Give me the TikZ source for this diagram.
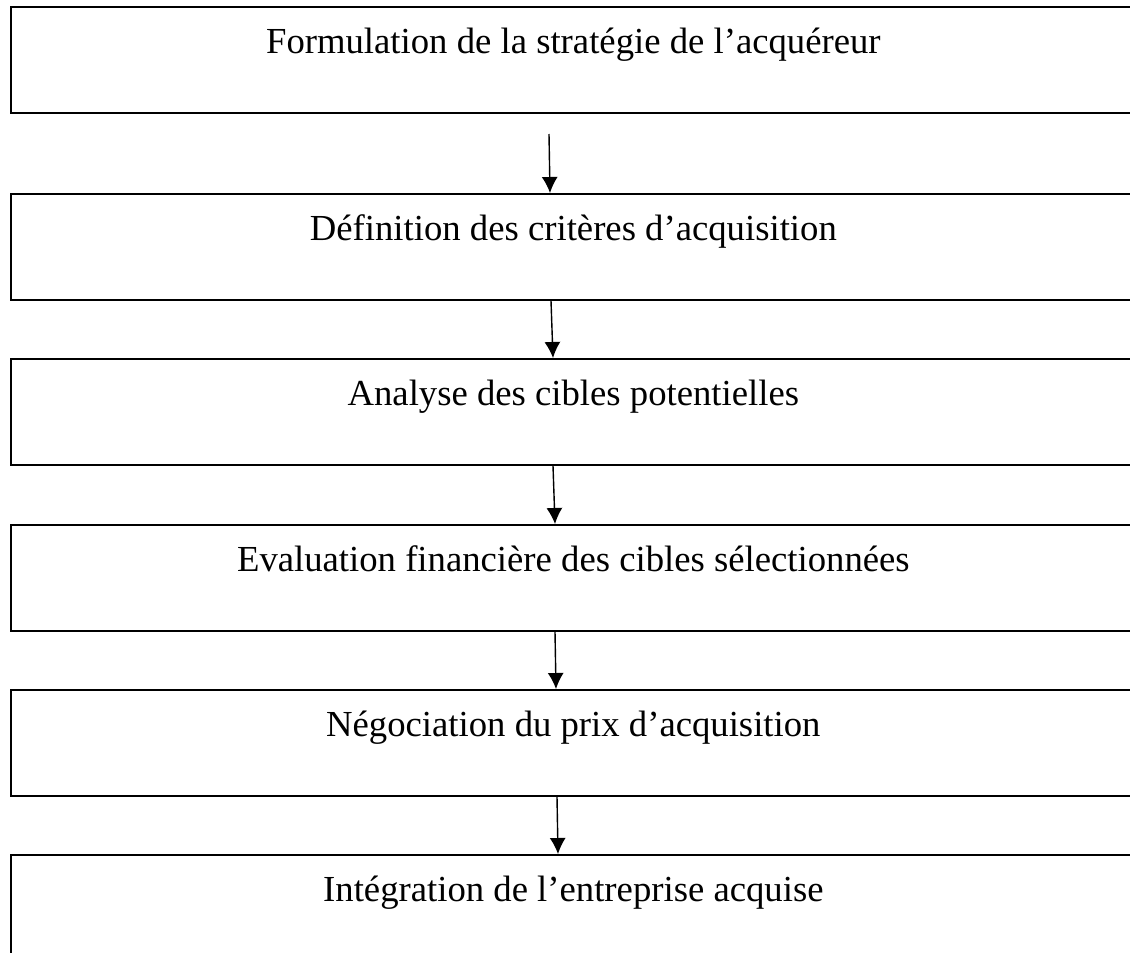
\documentclass[tikz,border=0pt]{standalone}
\usepackage{fontspec}
\setmainfont{Liberation Serif}
\usetikzlibrary{arrows.meta}

\begin{document}
\begin{tikzpicture}[x = 1pt, y = -1pt, > = {Latex[length = 16pt, width = 16pt]},
	stage/.style = {draw, line width = 1.7pt, rectangle, anchor = north west,
		inner sep = 0pt, minimum width = 1125pt, text height = 47pt, text depth = 59pt,
		font = \fontsize{36.7}{44}\selectfont},
	flow/.style = {->, line width = 1.4pt}]

	% Page frame

	\useasboundingbox (0, 0) rectangle (1130, 953);

	% Stages of the acquisition process

	\node [stage] (formulation) at (10, 6) {Formulation de la stratégie de l’acquéreur};
	\node [stage] (criteres) at (10, 193) {Définition des critères d’acquisition};
	\node [stage] (cibles) at (10, 358) {Analyse des cibles potentielles};
	\node [stage] (evaluation) at (10, 524) {Evaluation financière des cibles sélectionnées};
	\node [stage] (negociation) at (10, 689) {Négociation du prix d’acquisition};
	\node [stage] (integration) at (10, 854) {Intégration de l’entreprise acquise};

	% Arrows between the stages

	\coordinate (start-1) at (549, 134);

	\draw [flow] (start-1) -- (550, 0 |- criteres.north);
	\draw [flow] (551, 0 |- criteres.south) -- (553, 0 |- cibles.north);
	\draw [flow] (553, 0 |- cibles.south) -- (555, 0 |- evaluation.north);
	\draw [flow] (555, 0 |- evaluation.south) -- (556, 0 |- negociation.north);
	\draw [flow] (557, 0 |- negociation.south) -- (558, 0 |- integration.north);

\end{tikzpicture}
\end{document}
